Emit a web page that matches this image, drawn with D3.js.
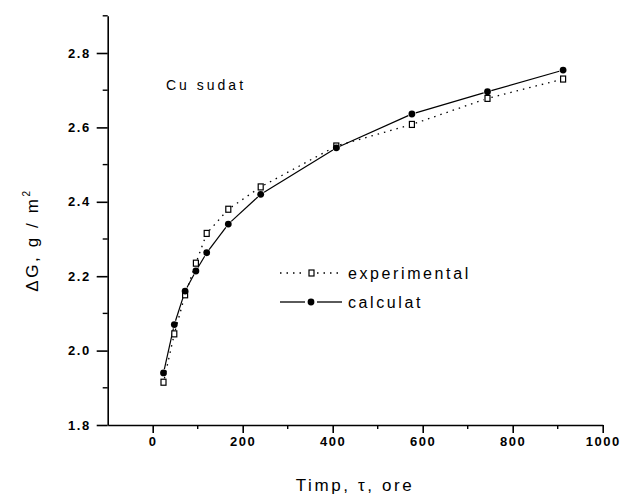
<!DOCTYPE html>
<html>
<head>
<meta charset="utf-8">
<script src="https://cdn.jsdelivr.net/npm/d3@7"></script>
<style>
  html, body { margin: 0; padding: 0; background: #fff; }
  svg { display: block; font-family: "Liberation Sans", Arial, sans-serif; }
</style>
</head>
<body>
<svg id="chart" width="622" height="496"></svg>
<script>
// Exposure time (hours) and mass gain (g/m²) for the welded copper sample
const times = [24, 48, 72, 96, 120, 168, 240, 408, 576, 744, 912];
const experimental = [1.915, 2.045, 2.15, 2.235, 2.315, 2.38, 2.44, 2.55, 2.608, 2.678, 2.73];
const calculated = [1.94, 2.07, 2.16, 2.214, 2.263, 2.34, 2.42, 2.545, 2.636, 2.696, 2.754];
const xTicks = [0, 200, 400, 600, 800, 1000];
const yTicks = [1.8, 2.0, 2.2, 2.4, 2.6, 2.8];
const seriesNames = ["experimental", "calculat"];

const svg = d3.select("#chart");
const x = d3.scaleLinear().domain([-100, 1000]).range([107.7, 602.7]);
const y = d3.scaleLinear().domain([1.8, 2.9]).range([425, 15.8]);

// axes
const xAxis = d3.axisBottom(x).tickValues(xTicks).tickSize(8).tickPadding(4)
  .tickFormat(d3.format("d")).tickSizeOuter(0);
const yAxis = d3.axisLeft(y).tickValues(yTicks).tickSize(11).tickPadding(6)
  .tickFormat(d3.format(".1f")).tickSizeOuter(0);

const gx = svg.append("g").attr("transform", `translate(0,${y(1.8)})`).call(xAxis);
const gy = svg.append("g").attr("transform", `translate(${x(-100)},0)`).call(yAxis);

[gx, gy].forEach(g => {
  g.select(".domain").attr("stroke", "#000").attr("stroke-width", 1.6);
  g.selectAll(".tick line").attr("stroke", "#000").attr("stroke-width", 1.6);
  g.selectAll(".tick text").attr("fill", "#000").style("font-size", "13px")
    .style("font-weight", "bold").style("letter-spacing", "1.5px");
});

// minor ticks
const xMinor = d3.range(-100, 1000, 200).filter(v => v > -100);
gx.selectAll(".minor").data(xMinor).enter().append("line")
  .attr("x1", d => x(d)).attr("x2", d => x(d)).attr("y1", 0).attr("y2", 4)
  .attr("stroke", "#000").attr("stroke-width", 1.4);
const yMinor = [1.9, 2.1, 2.3, 2.5, 2.7, 2.9];
gy.selectAll(".minor").data(yMinor).enter().append("line")
  .attr("y1", d => y(d)).attr("y2", d => y(d)).attr("x1", 0).attr("x2", -5)
  .attr("stroke", "#000").attr("stroke-width", 1.4);

// axis titles
svg.append("text").attr("x", 355).attr("y", 491).attr("text-anchor", "middle")
  .style("font-size", "17px").style("letter-spacing", "2.6px").text("Timp, τ, ore");

const yl = svg.append("text").attr("transform", "translate(38,240) rotate(-90)")
  .attr("text-anchor", "middle").style("font-size", "17px").style("letter-spacing", "2.6px");
yl.append("tspan").text("ΔG, g / m");
yl.append("tspan").attr("dy", -8).style("font-size", "10px").text("2");

// annotation
svg.append("text").attr("x", 166).attr("y", 90).style("font-size", "14px")
  .style("letter-spacing", "3px").text("Cu sudat");

// connecting lines with a small gap around each marker
function gapSegments(vals, gap) {
  const pts = times.map((t, i) => [x(t), y(vals[i])]);
  const segs = [];
  for (let i = 0; i < pts.length - 1; i++) {
    const [x0, y0] = pts[i], [x1, y1] = pts[i + 1];
    const len = Math.hypot(x1 - x0, y1 - y0);
    if (len <= 2 * gap) continue;
    const ux = (x1 - x0) / len, uy = (y1 - y0) / len;
    segs.push([x0 + ux * gap, y0 + uy * gap, x1 - ux * gap, y1 - uy * gap]);
  }
  return segs;
}

svg.append("g").selectAll("line").data(gapSegments(experimental, 4)).enter().append("line")
  .attr("x1", d => d[0]).attr("y1", d => d[1]).attr("x2", d => d[2]).attr("y2", d => d[3])
  .attr("stroke", "#000").attr("stroke-width", 1.3).attr("stroke-dasharray", "1.5,5");

svg.append("g").selectAll("line").data(gapSegments(calculated, 4)).enter().append("line")
  .attr("x1", d => d[0]).attr("y1", d => d[1]).attr("x2", d => d[2]).attr("y2", d => d[3])
  .attr("stroke", "#000").attr("stroke-width", 1.2);

// markers
svg.append("g").selectAll("rect").data(times).enter().append("rect")
  .attr("x", d => x(d) - 2.5).attr("y", (d, i) => y(experimental[i]) - 3)
  .attr("width", 5).attr("height", 6)
  .attr("fill", "#fff").attr("stroke", "#000").attr("stroke-width", 1.2);

svg.append("g").selectAll("circle").data(times).enter().append("circle")
  .attr("cx", d => x(d)).attr("cy", (d, i) => y(calculated[i])).attr("r", 3.4)
  .attr("fill", "#000");

// legend
const legend = svg.append("g");
const rows = [
  { name: seriesNames[0], y: 273, dash: "1.5,5", marker: "square" },
  { name: seriesNames[1], y: 302, dash: null, marker: "circle" }
];
rows.forEach(r => {
  [[280, 305], [317, 342]].forEach(([a, b]) => {
    legend.append("line").attr("x1", a).attr("x2", b).attr("y1", r.y).attr("y2", r.y)
      .attr("stroke", "#000").attr("stroke-width", 1.3)
      .attr("stroke-dasharray", r.dash);
  });
  if (r.marker === "square") {
    legend.append("rect").attr("x", 309).attr("y", r.y - 3).attr("width", 5).attr("height", 6)
      .attr("fill", "#fff").attr("stroke", "#000").attr("stroke-width", 1.2);
  } else {
    legend.append("circle").attr("cx", 311).attr("cy", r.y).attr("r", 3.4).attr("fill", "#000");
  }
  legend.append("text").attr("x", 348).attr("y", r.y + 5.5).style("font-size", "16px")
    .style("letter-spacing", "2.6px").text(r.name);
});
</script>
</body>
</html>
